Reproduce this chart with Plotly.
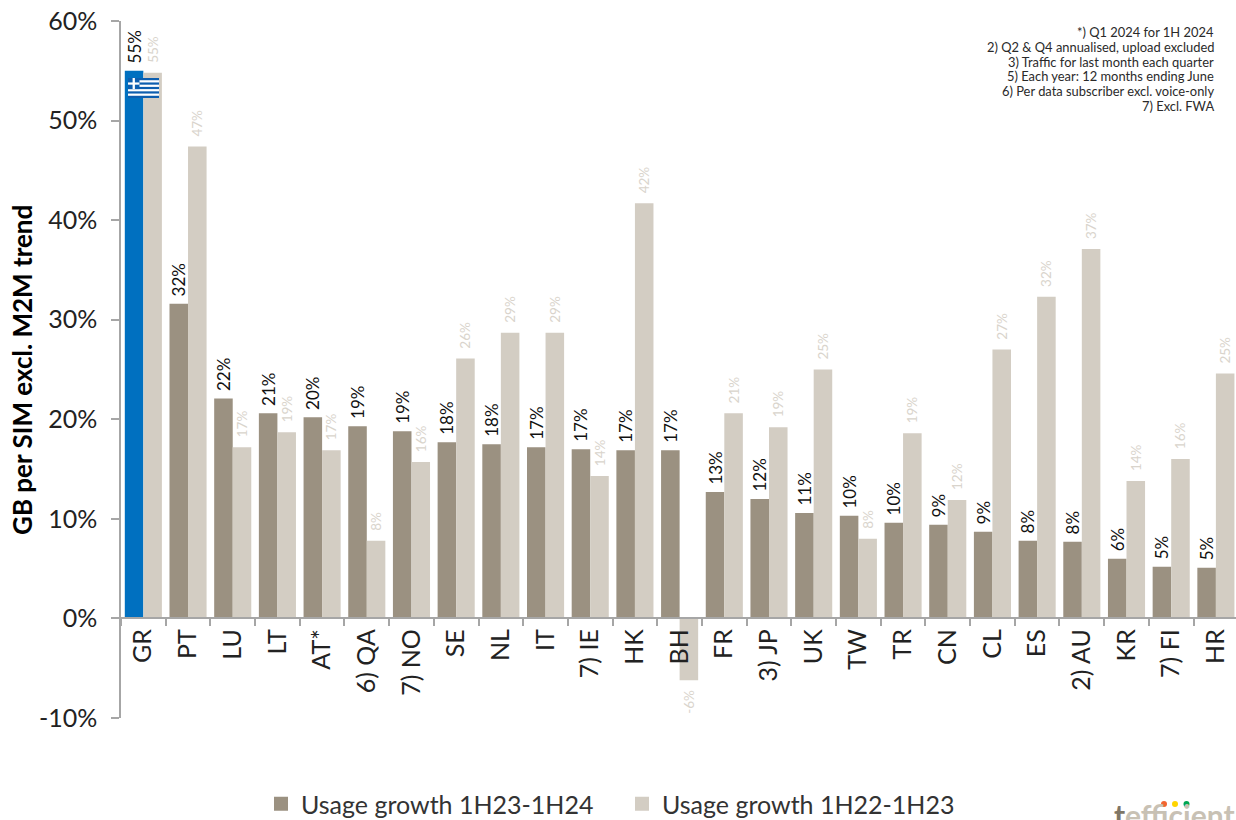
import base64
import plotly.graph_objects as go

categories = ["GR","PT","LU","LT","AT*","6) QA","7) NO","SE","NL","IT","7) IE","HK","BH","FR","3) JP","UK","TW","TR","CN","CL","ES","2) AU","KR","7) FI","HR"]
growth_1h23_1h24 = [55.0,31.6,22.1,20.6,20.2,19.3,18.8,17.7,17.5,17.2,17.0,16.9,16.9,12.7,12.0,10.6,10.3,9.6,9.4,8.7,7.8,7.7,6.0,5.2,5.1]
growth_1h22_1h23 = [54.8,47.4,17.2,18.7,16.9,7.8,15.7,26.1,28.7,28.7,14.3,41.7,-6.2,20.6,19.2,25.0,8.0,18.6,11.9,27.0,32.3,37.1,13.8,16.0,24.6]
series_names = ["Usage growth 1H23-1H24", "Usage growth 1H22-1H23"]
y_ticks = [-10, 0, 10, 20, 30, 40, 50, 60]
y_tick_labels = ["-10%", "0%", "10%", "20%", "30%", "40%", "50%", "60%"]
notes = ["*) Q1 2024 for 1H 2024","2) Q2 & Q4 annualised, upload excluded","3) Traffic for last month each quarter","5) Each year: 12 months ending June","6) Per data subscriber excl. voice-only","7) Excl. FWA"]
y_title = "GB per SIM excl. M2M trend"

W, H = 1236, 820
L, R, T, B = 121, 1236, 21, 718
FONT = "Lato"
C1, C2, BLUE = "#9b9181", "#d3cdc3", "#0070c0"
GREY = "#a6a6a6"
NB = "\u00a0"

def px(x): return (x - L) / (R - L)
def py(y): return (B - y) / (B - T)
def templates(values, pad):
    # the padding keeps each rotated label clear of the end of its bar
    return [(pad + "%{y:.0f}%") if v >= 0 else ("%{y:.0f}%" + pad) for v in values]

flag_svg = ('<svg xmlns="http://www.w3.org/2000/svg" width="90" height="60" viewBox="0 0 27 18" preserveAspectRatio="none">'
            '<rect width="27" height="18" fill="#0d5eaf"/>'
            + "".join(f'<rect y="{i}" width="27" height="2" fill="#fff"/>' for i in (2, 6, 10, 14))
            + '<rect width="10" height="10" fill="#0d5eaf"/><rect x="4" width="2" height="10" fill="#fff"/><rect y="4" width="10" height="2" fill="#fff"/></svg>')
flag_uri = "data:image/svg+xml;base64," + base64.b64encode(flag_svg.encode()).decode()

fig = go.Figure()
fig.add_bar(x=categories, y=growth_1h23_1h24, name=series_names[0], showlegend=False,
            marker=dict(color=[BLUE] + [C1] * (len(categories) - 1), line_width=0),
            texttemplate=templates(growth_1h23_1h24, NB), textposition="outside", textangle=-90, constraintext="none",
            textfont=dict(family=FONT, size=17, color="#111111"), cliponaxis=False)
fig.add_bar(x=categories, y=growth_1h22_1h23, name=series_names[1], showlegend=False,
            marker=dict(color=C2, line_width=0),
            texttemplate=templates(growth_1h22_1h23, NB * 2), textposition="outside", textangle=-90, constraintext="none",
            textfont=dict(family=FONT, size=13.5, color="#d9d4cc"), cliponaxis=False)
for name, col in zip(series_names, (C1, C2)):
    fig.add_scatter(x=[None], y=[None], mode="markers", name=name,
                    marker=dict(symbol="square", size=14, color=col))

annotations = [dict(text=t, x=px(1216), y=py(32 + 14.75 * i), xref="paper", yref="paper", xanchor="right", yanchor="middle",
                    showarrow=False, font=dict(family=FONT, size=12.9, color="#2a2a2a")) for i, t in enumerate(notes)]
annotations.append(dict(text=y_title, x=px(22), y=py(370), xref="paper", yref="paper", textangle=-90, showarrow=False,
                        xanchor="center", yanchor="middle", font=dict(family=FONT, size=26, color="#000000", weight="bold")))
annotations.append(dict(text='<span style="color:#7f7666">t</span>efficient', x=px(1112), y=py(815), xref="paper", yref="paper",
                        xanchor="left", yanchor="middle", showarrow=False,
                        font=dict(family=FONT, size=30, color="#c8c1b4", weight="bold")))

dots = [(1164, "#f26430"), (1175, "#ffd500"), (1186.5, "#00a651")]
shapes = [dict(type="circle", xref="paper", yref="paper", x0=px(x - 3), x1=px(x + 3), y0=py(807), y1=py(801),
               fillcolor=c, line_width=0) for x, c in dots]

fig.update_layout(
    width=W, height=H, margin=dict(l=L, r=W - R, t=T, b=H - B, autoexpand=False),
    plot_bgcolor="white", paper_bgcolor="white", barmode="group", bargap=0.17, bargroupgap=0,
    font=dict(family=FONT, color="#222222"),
    showlegend=True,
    legend=dict(orientation="h", x=px(271), xanchor="left", y=py(804), yanchor="middle", bgcolor="rgba(0,0,0,0)",
                font=dict(family=FONT, size=25, color="#333333"), itemclick=False, tracegroupgap=0, entrywidth=326, entrywidthmode="pixels", indentation=-10),
    annotations=annotations, shapes=shapes,
    images=[dict(source=flag_uri, xref="paper", yref="paper", x=px(128), y=py(78), sizex=31 / (R - L), sizey=20 / (B - T),
                 xanchor="left", yanchor="top", sizing="stretch", layer="above")],
    xaxis=dict(range=[-0.5, 24.45], tickmode="array", tickvals=categories, ticktext=categories, tickson="boundaries",
               anchor="free", position=10 / 70, tickangle=-90, ticks="outside", ticklen=7, tickcolor=GREY, tickwidth=1.5,
               showline=True, linecolor=GREY, linewidth=1.5, showgrid=False, zeroline=False, fixedrange=True,
               tickfont=dict(family=FONT, size=25, color="#222222")),
    yaxis=dict(range=[-10, 60], tickmode="array", tickvals=y_ticks, ticktext=y_tick_labels, ticks="outside", ticklen=8,
               tickcolor=GREY, tickwidth=1.5, showline=True, linecolor=GREY, linewidth=1.5, showgrid=False, zeroline=False,
               ticklabelstandoff=9, fixedrange=True, tickfont=dict(family=FONT, size=25, color="#222222")),
)
fig.write_html("out.html", config=dict(displayModeBar=False),
               post_script="document.body.style.margin='0';document.documentElement.style.overflow='hidden';")
